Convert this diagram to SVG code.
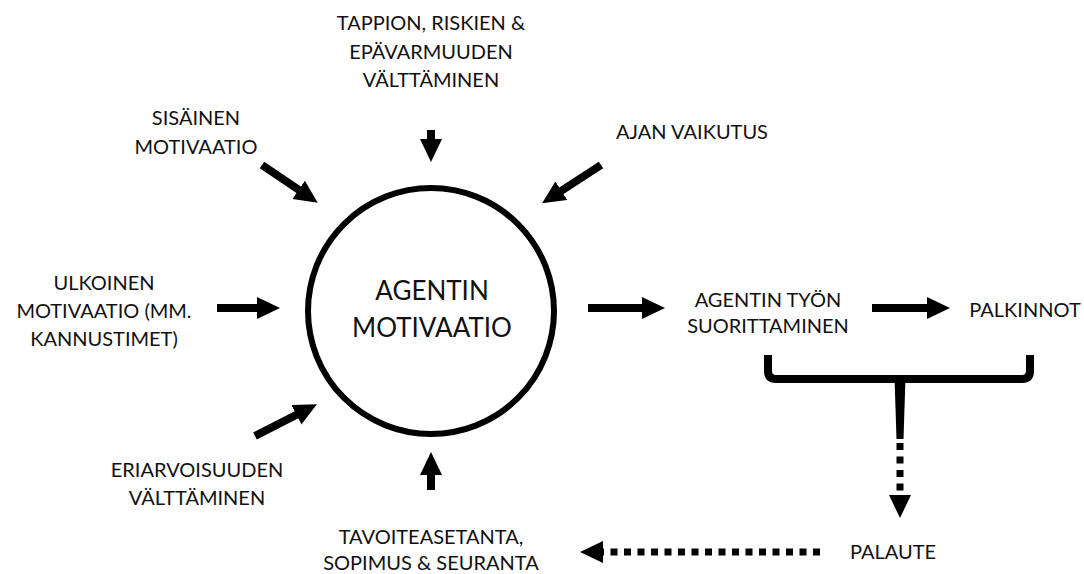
<svg xmlns="http://www.w3.org/2000/svg" width="1084" height="574" viewBox="0 0 1084 574">
  <style>
    .t { font-family: Lato, "Liberation Sans", sans-serif; font-size: 20px; fill: #111; text-anchor: middle; }
    .title { font-size: 26px; }
    .shaft { stroke: #000; stroke-width: 8; fill: none; marker-end: url(#head); }
    .dots { stroke: #000; stroke-width: 7; fill: none; stroke-dasharray: 7 6.5; marker-end: url(#head); }
  </style>
  <defs>
    <marker id="head" markerUnits="userSpaceOnUse" markerWidth="24" markerHeight="24" refX="4" refY="11" orient="auto">
      <path d="M0,0 L23,11 L0,22 Z" fill="#000"/>
    </marker>
  </defs>
  <rect width="1084" height="574" fill="#fff"/>

  <g id="agent-motivation">
    <circle cx="431" cy="311" r="123" fill="none" stroke="#000" stroke-width="6"/>
    <text class="t title" x="432" y="300">AGENTIN</text>
    <text class="t title" x="432" y="337">MOTIVAATIO</text>
  </g>

  <g id="loss-avoidance">
    <text class="t" x="431" y="30">TAPPION, RISKIEN &amp;</text>
    <text class="t" x="431" y="59">EPÄVARMUUDEN</text>
    <text class="t" x="431" y="87">VÄLTTÄMINEN</text>
  </g>
  <g id="intrinsic">
    <text class="t" x="196" y="125">SISÄINEN</text>
    <text class="t" x="196" y="154">MOTIVAATIO</text>
  </g>
  <g id="time-effect">
    <text class="t" x="692" y="139">AJAN VAIKUTUS</text>
  </g>
  <g id="extrinsic">
    <text class="t" x="104" y="290">ULKOINEN</text>
    <text class="t" x="104" y="318">MOTIVAATIO (MM.</text>
    <text class="t" x="104" y="346">KANNUSTIMET)</text>
  </g>
  <g id="inequity-avoidance">
    <text class="t" x="197" y="477">ERIARVOISUUDEN</text>
    <text class="t" x="197" y="505">VÄLTTÄMINEN</text>
  </g>
  <g id="goal-setting">
    <text class="t" x="431" y="544">TAVOITEASETANTA,</text>
    <text class="t" x="431" y="570">SOPIMUS &amp; SEURANTA</text>
  </g>
  <g id="work-performance">
    <text class="t" x="768" y="307">AGENTIN TYÖN</text>
    <text class="t" x="768" y="333">SUORITTAMINEN</text>
  </g>
  <g id="rewards">
    <text class="t" x="1025" y="317">PALKINNOT</text>
  </g>
  <g id="feedback">
    <text class="t" x="893" y="559">PALAUTE</text>
  </g>

  <g id="connectors">
    <!-- solid arrows into the motivation circle -->
    <line class="shaft" x1="431" y1="130" x2="431" y2="143"/>
    <line class="shaft" x1="262" y1="165" x2="302" y2="192"/>
    <line class="shaft" x1="601" y1="165" x2="558" y2="193"/>
    <line class="shaft" x1="217" y1="308" x2="261" y2="308"/>
    <line class="shaft" x1="255" y1="436" x2="300" y2="413"/>
    <line class="shaft" x1="431" y1="490" x2="431" y2="471"/>
    <!-- outgoing chain -->
    <line class="shaft" x1="588" y1="308" x2="646" y2="308"/>
    <line class="shaft" x1="872" y1="308" x2="931" y2="308"/>
    <!-- bracket gathering performance and rewards -->
    <path d="M768,355 L768,371 Q768,379 776,379 L1022,379 Q1030,379 1030,371 L1030,355" fill="none" stroke="#000" stroke-width="8"/>
    <path d="M894.5,377 L905.5,377 L903.5,439 L896.5,439 Z" fill="#000"/>
    <!-- dotted feedback loop -->
    <line class="dots" x1="900" y1="443" x2="900" y2="499"/>
    <line class="dots" x1="820" y1="552" x2="599" y2="552"/>
  </g>
</svg>
